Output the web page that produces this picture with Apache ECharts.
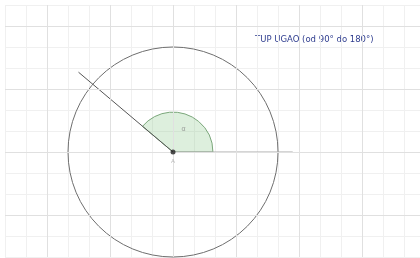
<!DOCTYPE html>
<html>
<head>
<meta charset="utf-8">
<script src="https://cdn.jsdelivr.net/npm/echarts@6/dist/echarts.min.js"></script>
<style>
  html, body { margin: 0; padding: 0; background: #fff; }
  #chart { width: 420px; height: 258px; }
</style>
</head>
<body>
<div id="chart"></div>
<script>
// geometry in grid units (1 unit = one small grid square)
var center = [0, 0];
var circleRadius = 5;
var sectorRadius = 1.9;
var sectorAngles = [0, 140];
var slantRay = [[0, 0], [-4.5, 3.8]];
var baseRay = [[0, 0], [5.7, 0]];
var majorX = [-6, -3, 0, 3, 6, 9];
var majorY = [-3, 0, 3, 6];
var titleText = 'TUP UGAO (od 90° do 180°)';

var myChart = echarts.init(document.getElementById('chart'));

myChart.setOption({
  animation: false,
  grid: { left: 5, right: 0, top: 5, bottom: 1 },
  xAxis: {
    type: 'value', min: -8, max: 11.76, interval: 1,
    axisLine: { show: false }, axisTick: { show: false }, axisLabel: { show: false },
    splitLine: { lineStyle: { color: '#f0f0f0', width: 1 } }
  },
  yAxis: {
    type: 'value', min: -5, max: 7, interval: 1,
    axisLine: { show: false }, axisTick: { show: false }, axisLabel: { show: false },
    splitLine: { lineStyle: { color: '#f0f0f0', width: 1 } }
  },
  graphic: [{
    type: 'text', left: 255, top: 35,
    style: { text: titleText, fill: '#2f3d8f', font: '8.5px "DejaVu Sans"' }
  }],
  series: [
    {
      // major grid lines
      type: 'line', data: [], silent: true,
      markLine: {
        symbol: 'none', silent: true, label: { show: false },
        lineStyle: { color: '#e0e0e0', type: 'solid', width: 1 },
        data: majorX.map(function (v) { return { xAxis: v }; })
          .concat(majorY.map(function (v) { return { yAxis: v }; }))
      }
    },
    {
      // angle sector
      type: 'custom', silent: true,
      data: [[center[0], center[1], sectorRadius, sectorAngles[0], sectorAngles[1]]],
      renderItem: function (params, api) {
        var c = api.coord([api.value(0), api.value(1)]);
        var r = api.size([api.value(2), 0])[0];
        return {
          type: 'sector',
          shape: {
            cx: c[0], cy: c[1], r0: 0, r: r,
            startAngle: -api.value(4) * Math.PI / 180,
            endAngle: -api.value(3) * Math.PI / 180,
            clockwise: true
          },
          style: { fill: 'rgba(120,190,120,0.25)', stroke: '#7aa67a', lineWidth: 1 }
        };
      }
    },
    {
      // circle
      type: 'custom', silent: true,
      data: [[center[0], center[1], circleRadius]],
      renderItem: function (params, api) {
        var c = api.coord([api.value(0), api.value(1)]);
        var r = api.size([api.value(2), 0])[0];
        return {
          type: 'circle',
          shape: { cx: c[0], cy: c[1], r: r },
          style: { fill: 'none', stroke: '#6e6e6e', lineWidth: 1 }
        };
      }
    },
    {
      type: 'line', data: baseRay, symbol: 'none', silent: true,
      lineStyle: { color: '#aaaaaa', width: 1 }
    },
    {
      type: 'line', data: slantRay, symbol: 'none', silent: true,
      lineStyle: { color: '#555', width: 1 }
    },
    {
      type: 'scatter', data: [center], symbolSize: 5, silent: true, z: 10,
      itemStyle: { color: '#222' },
      label: { show: true, formatter: 'A', position: 'bottom', distance: 4, color: '#aaa', fontSize: 6 }
    },
    {
      type: 'scatter', data: [[0.5, 1.1]], symbolSize: 0, silent: true,
      label: { show: true, formatter: 'α', position: 'inside', color: '#888', fontSize: 7 }
    }
  ]
});
</script>
</body>
</html>
